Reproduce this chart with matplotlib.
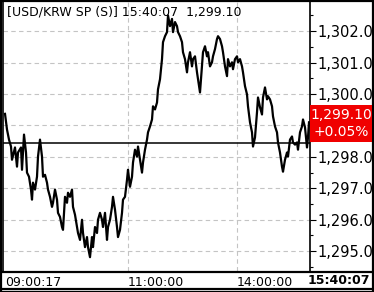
import matplotlib
matplotlib.use("Agg")
import matplotlib.pyplot as plt
from matplotlib.patches import Rectangle

# intraday USD/KRW spot, sequence number of the tick vs price
seq = [0, 2, 4, 6, 7, 10, 12, 13, 16, 17, 19, 21, 22, 24, 26, 27, 28, 30, 32, 33,
       35, 37, 38, 40, 42, 43, 45, 47, 48, 50, 52, 53, 55, 57, 58, 60, 62, 63, 65, 67, 68,
       70, 72, 73, 75, 77, 78, 80, 82, 83, 85, 87, 88, 90, 92, 93, 95, 97, 98, 100, 102,
       103, 105, 107, 108, 110, 112, 113, 115, 117, 118, 120, 122, 123, 125, 127, 128, 130,
       132, 133, 135, 137, 138, 140, 142, 143, 145, 147,
       148, 150, 152, 153, 155, 157, 158, 160, 162, 163, 165, 167, 168, 170, 172, 173, 175,
       177, 178, 180, 182, 183, 185, 187, 188, 190, 192, 193, 195, 197, 198, 200, 202, 203,
       205, 207, 208, 210, 212, 213,
       215, 217, 218, 220, 222, 223, 225, 227, 228, 230, 232, 233, 235, 237, 238, 240, 242,
       243, 245, 247, 248, 250, 252, 253, 255, 257, 258, 260, 262, 263, 265, 267, 268, 270,
       272, 273, 275, 277, 278, 280, 282, 283, 285, 287, 288, 290, 292, 293, 295, 297, 298,
       300, 302, 303, 304]
price = [1299.37, 1298.87, 1298.55, 1298.33, 1297.91, 1298.30, 1297.69, 1298.14, 1298.30, 1297.59,
         1298.71, 1298.14, 1297.50, 1297.37, 1296.96, 1296.64, 1297.18, 1296.96, 1297.37, 1298.01,
         1298.55, 1298.01, 1297.37, 1297.43, 1297.18, 1296.96, 1296.73, 1296.41, 1296.54, 1296.96,
         1296.64, 1296.22, 1296.09, 1295.77, 1295.68, 1296.73, 1296.54, 1296.86, 1296.73, 1296.96,
         1296.41,
         1296.16, 1295.77, 1295.58, 1295.36, 1296.00, 1295.58, 1295.13, 1295.45, 1295.13, 1294.81,
         1295.45, 1295.13, 1295.77, 1295.58, 1296.00, 1296.22, 1296.00, 1295.77, 1296.22, 1295.36,
         1295.77, 1296.00, 1296.41, 1296.73, 1296.32, 1295.77, 1295.45, 1295.68, 1296.22, 1296.64,
         1296.73, 1297.27, 1297.59, 1297.05, 1297.37, 1297.82, 1298.23, 1298.01, 1298.33, 1297.91,
         1297.50, 1297.82, 1298.23, 1298.55, 1298.78, 1298.97, 1299.19,
         1299.61, 1299.51, 1299.73, 1300.15, 1300.47, 1301.11, 1301.65, 1301.84, 1301.97, 1302.50,
         1302.16, 1302.39, 1301.97, 1302.29, 1302.16, 1301.97, 1301.84, 1301.65, 1301.33, 1301.11,
         1300.69, 1301.01, 1301.33, 1300.88, 1301.11, 1301.20, 1300.69, 1300.47, 1300.05, 1300.88,
         1301.33, 1301.52, 1301.20, 1301.33, 1300.88, 1301.01, 1301.20, 1301.43, 1301.75, 1301.84,
         1301.75, 1301.52, 1301.33, 1300.88, 1300.57, 1301.11, 1300.88, 1301.01, 1300.79, 1301.11,
         1301.20, 1301.01, 1301.11, 1300.88, 1300.69, 1300.25, 1299.99, 1299.61, 1299.10, 1298.78,
         1298.33, 1298.62, 1299.42, 1299.89, 1299.58, 1299.35, 1299.89, 1300.21, 1299.83, 1299.93,
         1299.83, 1299.61, 1299.29, 1298.97, 1298.78, 1298.46, 1298.14, 1297.69, 1297.53, 1297.91,
         1298.14, 1298.01, 1298.55, 1298.65, 1298.46, 1298.39, 1298.46, 1298.23, 1298.78, 1298.97,
         1299.19, 1298.94, 1298.30, 1298.62, 1299.10]

prev_close = 1298.45
last_price = 1299.10
change_pct = "+0.05%"
title = "[USD/KRW SP (S)] 15:40:07  1,299.10"

time_pos = [0, 123, 232]
time_labels = ["09:00:17", "11:00:00", "14:00:00"]
last_time = "15:40:07"

y_major = [1295, 1296, 1297, 1298, 1299, 1300, 1301, 1302]
y_minor = [1294.5, 1295.5, 1296.5, 1297.5, 1298.5, 1299.5, 1300.5, 1301.5, 1302.5]

W, H = 374, 292
fig = plt.figure(figsize=(W / 100, H / 100), dpi=100)
fig.patch.set_facecolor("white")
plt.rcParams["font.family"] = "DejaVu Sans"

# main price panel
ax = fig.add_axes([3.5 / W, (H - 271) / H, 306 / W, 270 / H])
ax.set_xlim(-1.5, 304.5)
ax.set_ylim(1294.37, 1302.96)

for v in y_major:
    ax.axhline(v, color="#c4c4c4", lw=0.8, ls=(0, (4, 3)), zorder=1)
for t in time_pos[1:]:
    ax.axvline(t, color="#c4c4c4", lw=0.8, ls=(0, (4, 3)), zorder=1)

ax.axhline(prev_close, color="black", lw=1.1, zorder=2)
ax.plot(seq, price, color="black", lw=1.6, zorder=3)

for s in ax.spines.values():
    s.set_linewidth(1.2)
ax.spines["bottom"].set_visible(False)

# the last-price box hides the label next to it
ylabels = ["" if v == 1299 else f"{v:,.2f}" for v in y_major]
ax.yaxis.tick_right()
ax.set_yticks(y_major)
ax.set_yticklabels(ylabels, fontsize=10.5)
ax.set_yticks(y_minor, minor=True)
ax.tick_params(axis="y", which="major", length=4, width=0.8, pad=1.5, direction="out")
ax.tick_params(axis="y", which="minor", length=2, width=0.8, direction="out")

ax.set_xticks(time_pos)
ax.set_xticklabels(time_labels, fontsize=9, ha="left")
ax.tick_params(axis="x", length=0, pad=3.5)

fig.text(7 / W, (H - 12) / H, title, fontsize=9, va="center", ha="left")

# last price box
fig.patches.append(Rectangle((310 / W, (H - 142) / H), 62 / W, 37 / H,
                             transform=fig.transFigure, facecolor="#f00000",
                             edgecolor="none", zorder=5))
fig.text(341 / W, (H - 115) / H, f"{last_price:,.2f}", color="white", fontsize=10,
         ha="center", va="center", zorder=6)
fig.text(341 / W, (H - 132) / H, change_pct, color="white", fontsize=10,
         ha="center", va="center", zorder=6)

# bottom time strip and outer frame
fig.add_artist(plt.Line2D([0, 1], [(H - 272) / H] * 2, color="black", lw=1.6))
fig.add_artist(plt.Line2D([0, 1], [(H - 289) / H] * 2, color="black", lw=1.6))
fig.patches.append(Rectangle((0.5 / W, 0.5 / H), 372 / W, 291 / H, transform=fig.transFigure,
                             fill=False, edgecolor="black", lw=1.6))
fig.text(370 / W, (H - 281) / H, last_time, fontsize=9, fontweight="bold",
         ha="right", va="center")

fig.savefig("out.png", dpi=100)
